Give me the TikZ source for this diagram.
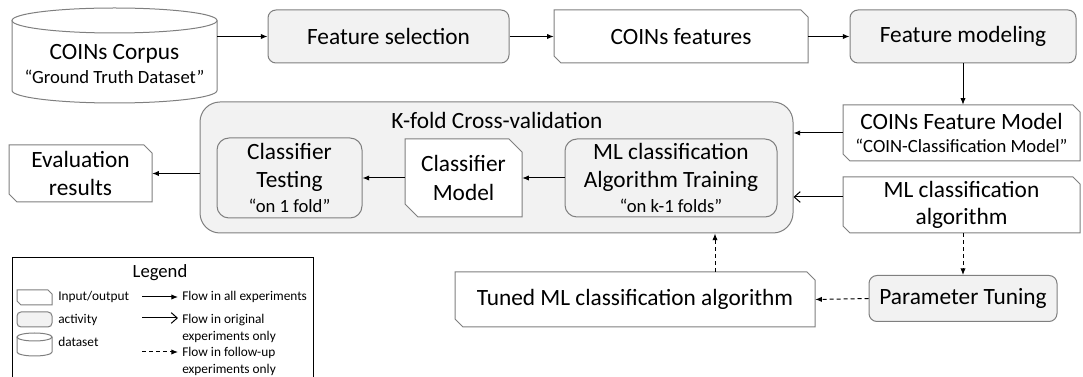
\documentclass[tikz,border=0pt]{standalone}
\usepackage{fontspec}
\setmainfont{Carlito}
\usetikzlibrary{arrows.meta}
\definecolor{bgray}{HTML}{7F7F7F}
\definecolor{actfill}{HTML}{F2F2F2}
\newcommand\subf{\fontsize{14}{17}\selectfont}
\newcommand\mainf{\fontsize{17.5}{21}\selectfont}
\newcommand\legf{\fontsize{10}{12.75}\selectfont}
% optional node options; name; x1; y1; x2; y2; cut; text
\newcommand\iobox[8][]{%
  \draw[iob] (#3,#4) -- ({#5-#7},#4) -- (#5,{#4+#7}) -- (#5,#6) -- ({#3+#7},#6) -- (#3,{#6-#7}) -- cycle;
  \node[txt,minimum width={(#5-#3)*0.75pt},minimum height={(#6-#4)*0.75pt},#1] (#2) at ({(#3+#5)/2},{(#4+#6)/2}) {#8};}
\begin{document}
\begin{tikzpicture}[x=0.75pt,y=-0.75pt,
  txt/.style={font=\mainf, align=center, inner sep=0pt},
  act/.style 2 args={draw=bgray, fill=actfill, rounded corners=6pt, line width=0.75pt,
    minimum width=#1*0.75pt, minimum height=#2*0.75pt, inner sep=0pt, font=\mainf, align=center},
  iob/.style={draw=bgray, fill=white, line width=0.75pt},
  flow/.style={line width=0.75pt, -{Latex[length=5pt,width=4pt]}},
  oflow/.style={line width=0.75pt, -{Straight Barb[length=4.5pt,width=8pt]}},
  dflow/.style={flow, dash pattern=on 3pt off 2.25pt}]
\useasboundingbox (0,0) rectangle (1083,377);
\clip (0,0) rectangle (1083,377);

% corpus cylinder
\draw[iob, fill=none] (12,20.5) -- (12,90.5) .. controls (12,97.4) and (57.9,103) .. (114.5,103)
  .. controls (171.1,103) and (217,97.4) .. (217,90.5) -- (217,20.5);
\draw[iob, fill=none] (114.5,20.5) ellipse [x radius=102.5, y radius=12.5];
\node[txt] (corpus) at (114.5,64) {COINs Corpus\\[-3pt]{\subf “Ground Truth Dataset”}};
\coordinate (corpusR) at (217,36.5);

% top row
\node[act={241}{53}] (fs) at (388.5,36.5) {Feature selection};
\iobox{cf}{554}{10}{808}{63}{7}{COINs features}
\node[act={226}{53}] (fm) at (963,36.5) {Feature modeling};

% right column
\iobox{cfm}{843}{105}{1080}{161}{7}{COINs Feature Model\\[-4pt]{\subf “COIN-Classification Model”}}
\iobox{mla}{843}{177}{1080}{233}{7}{ML classification\\[-1pt]algorithm}

% k-fold
\node[act={593}{131}, rounded corners=15pt] (kfold) at (496.5,167.5) {};
\node[txt] (kftitle) at (497,120) {K-fold Cross-validation};
\node[act={145}{80}, rounded corners=9pt] (ct) at (289.5,178) {Classifier\\Testing\\[-2pt]{\subf “on 1 fold”}};
\iobox{cm}{405}{139}{522}{217}{13}{Classifier\\[1pt]Model}
\node[act={212}{78}, rounded corners=9pt] (mlt) at (671,178) {ML classification\\Algorithm Training\\[-2pt]{\subf “on k-1 folds”}};

% left output
\iobox{er}{9}{145}{152}{202}{8}{Evaluation\\results}

% bottom row
\iobox{tuned}{455}{272}{815}{327}{8}{Tuned ML classification algorithm}
\node[act={188}{46}] (pt) at (963,298.5) {Parameter Tuning};

% connectors
\draw[flow] (corpusR) -- (fs.west);
\draw[flow] (fs.east) -- (cf.west);
\draw[flow] (cf.east) -- (fm.west);
\draw[flow] (fm.south) -- (fm.south |- cfm.north);
\draw[flow] (cfm.west) -- (cfm.west -| kfold.east);
\draw[oflow] ([yshift=6pt]mla.west) -- ([yshift=6pt]mla.west -| kfold.east);
\draw[flow] (mlt.west) -- (mlt.west -| cm.east);
\draw[flow] (cm.west) -- (cm.west -| ct.east);
\draw[flow] (er.east -| kfold.west) -- (er.east);
\draw[dflow] (pt.north |- mla.south) -- (pt.north);
\draw[dflow] (pt.west) -- (tuned.east);
\draw[dflow] ([xshift=60pt]tuned.north) -- ([xshift=60pt]tuned.north |- kfold.south);

% legend
\draw[line width=0.75pt] (12,258) rectangle (313,400);
\node[font=\fontsize{14}{16}\selectfont, inner sep=0pt] (legtitle) at (160,273) {Legend};
\iobox{lio}{17}{290}{52}{305}{4}{}
\node[inner sep=0pt, font=\legf, anchor=west] (lioT) at (58,297) {Input/output};
\node[act={35}{15}, rounded corners=3pt] (lact) at (34.5,319.5) {};
\node[inner sep=0pt, font=\legf, anchor=west] (lactT) at (58,320) {activity};
\draw[iob, fill=none] (17,337) -- (17,352) .. controls (17,354.2) and (24.8,356) .. (34.5,356)
  .. controls (44.2,356) and (52,354.2) .. (52,352) -- (52,337);
\draw[iob, fill=none] (34.5,337) ellipse [x radius=17.5, y radius=4];
\node[inner sep=0pt, font=\legf, anchor=west] (ldsT) at (58,342) {dataset};
\coordinate (la1s) at (142,297); \coordinate (la1e) at (178,297);
\coordinate (la2s) at (142,318); \coordinate (la2e) at (178,318);
\coordinate (la3s) at (142,352); \coordinate (la3e) at (178,352);
\draw[flow] (la1s) -- (la1e);
\draw[oflow] (la2s) -- (la2e);
\draw[dflow] (la3s) -- (la3e);
\node[inner sep=0pt, font=\legf, anchor=west] (la1T) at (182,297) {Flow in all experiments};
\node[inner sep=0pt, font=\legf, anchor=west, align=left] (la2T) at (182,328.5) {Flow in original\\experiments only};
\node[inner sep=0pt, font=\legf, anchor=west, align=left] (la3T) at (182,361) {Flow in follow-up\\experiments only};
\end{tikzpicture}
\end{document}
